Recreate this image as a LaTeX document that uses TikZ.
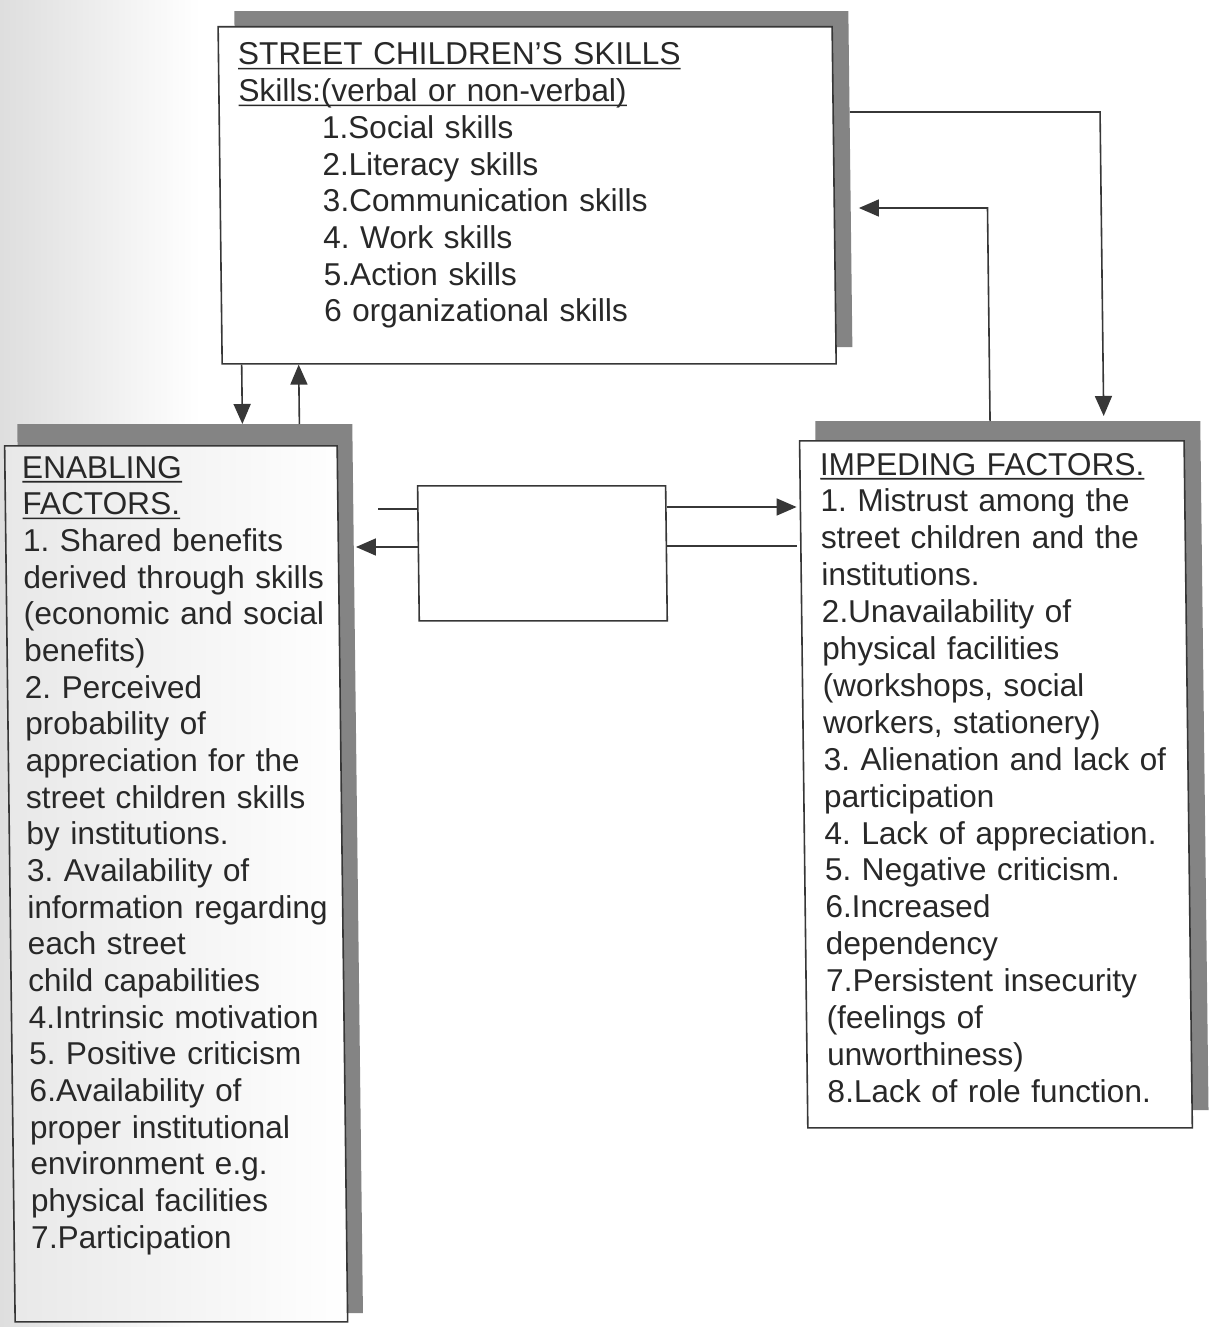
\documentclass[tikz,border=0pt]{standalone}
\usepackage{fontspec}
\setmainfont{Liberation Sans}
\usetikzlibrary{arrows.meta}
\definecolor{shadowgray}{RGB}{132,132,132}
\definecolor{ink}{RGB}{40,40,40}
\definecolor{lineink}{RGB}{55,55,55}
\newsavebox\myulbox
\newcommand{\myul}[1]{\leavevmode\sbox\myulbox{#1}\rlap{\rule[-4.5pt]{\wd\myulbox}{1.6pt}}\usebox\myulbox}
\frenchspacing
\begin{document}
\begin{tikzpicture}[x=1pt,y=-1pt,
  shadowbox/.style={fill=shadowgray, draw=none, inner sep=0pt, anchor=north west},
  mainbox/.style={fill=white, draw=lineink, line width=1.6pt, inner sep=0pt, anchor=north west},
  txt/.style={anchor=base west, inner sep=0pt, text width=560pt, align=left, text=ink},
  conn/.style={draw=lineink, line width=1.6pt},
  arr/.style={conn, -{Triangle[length=20pt,width=17pt]}},
]
\useasboundingbox (0,0) rectangle (1211,1327);
\fill[white] (0,0) rectangle (1211,1327);
\shade[left color=black!13, right color=white] (0,0) rectangle (200,1327);
\begin{scope}[xslant=-0.012, transform shape]
  % shadows and boxes
  \node[shadowbox, minimum width=614pt, minimum height=336pt] (tsh) at (234,11) {};
  \node[mainbox, minimum width=614pt, minimum height=337pt] (topbox) at (217,26) {};
  \node[shadowbox, minimum width=335pt, minimum height=889pt] (lsh) at (12,424) {};
  \node[mainbox, left color=black!9, middle color=white, right color=white, minimum width=332.5pt, minimum height=876pt] (leftbox) at (-1.5,445) {};
  \node[shadowbox, minimum width=385pt, minimum height=689pt] (rsh) at (810,421) {};
  \node[mainbox, minimum width=384.5pt, minimum height=687pt] (rightbox) at (793.5,440) {};
  \node[mainbox, minimum width=248pt, minimum height=135pt] (midbox) at (411,485) {};

  % texts
  \node[txt, font=\fontsize{31.6}{36.7}\selectfont] (toptext) at (237.2,65) {%
    \myul{STREET CHILDREN’S SKILLS}\\
    \myul{Skills:(verbal or non-verbal)}\\
    \hspace*{83pt}1.Social skills\\
    \hspace*{83pt}2.Literacy skills\\
    \hspace*{83pt}3.Communication skills\\
    \hspace*{83pt}4. Work skills\\
    \hspace*{83pt}5.Action skills\\
    \hspace*{83pt}6 organizational skills};
  \node[txt, font=\fontsize{31.6}{36.67}\selectfont] (lefttext) at (16.3,478) {%
    \myul{ENABLING}\\
    \myul{FACTORS.}\\
    1. Shared benefits\\
    derived through skills\\
    (economic and social\\
    benefits)\\
    2. Perceived\\
    probability of\\
    appreciation for the\\
    street children skills\\
    by institutions.\\
    3. Availability of\\
    information regarding\\
    each street\\
    child capabilities\\
    4.Intrinsic motivation\\
    5. Positive criticism\\
    6.Availability of\\
    proper institutional\\
    environment e.g.\\
    physical facilities\\
    7.Participation};
  \node[txt, font=\fontsize{31.6}{36.9}\selectfont] (righttext) at (814.3,475) {%
    \myul{IMPEDING FACTORS.}\\
    1. Mistrust among the\\
    street children and the\\
    institutions.\\
    2.Unavailability of\\
    physical facilities\\
    (workshops, social\\
    workers, stationery)\\
    3. Alienation and lack of\\
    participation\\
    4. Lack of appreciation.\\
    5. Negative criticism.\\
    6.Increased\\
    dependency\\
    7.Persistent insecurity\\
    (feelings of\\
    unworthiness)\\
    8.Lack of role function.};

  % helper coordinates
  \coordinate (cA) at (237.3,390);
  \coordinate (cB) at (294.3,390);
  \coordinate (cC) at (1098.7,112);
  \coordinate (cD) at (1098.7,415);
  \coordinate (cE) at (985,421);
  \coordinate (cF) at (985,208);
  \coordinate (cG) at (371.9,509);
  \coordinate (cH) at (353.4,547);
  \coordinate (cI) at (720,507);
  \coordinate (cJ) at (720,546);

  % connectors
  \draw[arr] (topbox.south -| cA) -- (lsh.north -| cA);
  \draw[arr] (lsh.north -| cB) -- (topbox.south -| cB);
  \draw[arr, shorten >=5pt] (tsh.east |- cC) -- (cC) -- (rsh.north -| cD);
  \draw[arr, shorten >=8pt] (rsh.north -| cE) -- (cF) -- (tsh.east |- cF);
  \draw[conn] (midbox.west |- cG) -- (cG);
  \draw[arr, shorten >=2pt] (midbox.west |- cH) -- (lsh.east |- cH);
  \draw[arr, shorten >=3pt] (midbox.east |- cI) -- (rightbox.west |- cI);
  \draw[conn, shorten >=3pt] (midbox.east |- cJ) -- (rightbox.west |- cJ);
\end{scope}
\end{tikzpicture}
\end{document}
